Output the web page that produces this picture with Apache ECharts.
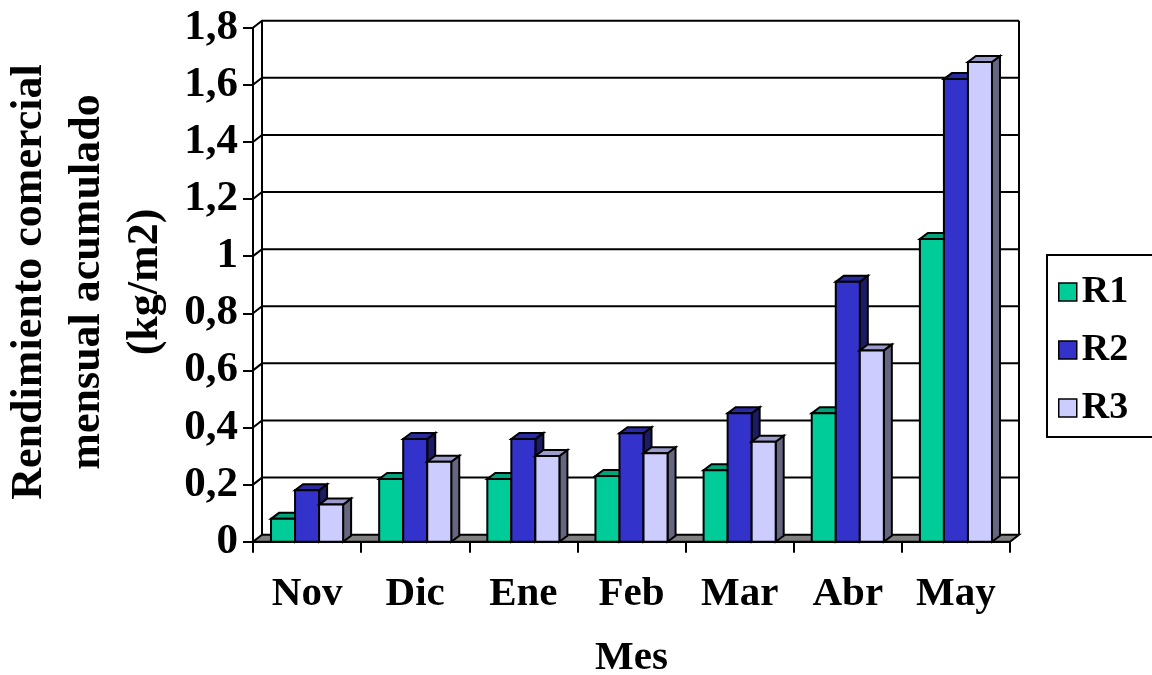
<!DOCTYPE html>
<html><head><meta charset="utf-8">
<script src="https://cdn.jsdelivr.net/npm/echarts@6/dist/echarts.min.js"></script>
<style>html,body{margin:0;padding:0;background:#fff}#c{width:1152px;height:675px}</style>
</head><body><div id="c"></div>
<script>
const categories = ['Nov', 'Dic', 'Ene', 'Feb', 'Mar', 'Abr', 'May'];
const r1 = [0.08, 0.22, 0.22, 0.23, 0.25, 0.45, 1.06];
const r2 = [0.18, 0.36, 0.36, 0.38, 0.45, 0.91, 1.62];
const r3 = [0.13, 0.28, 0.30, 0.31, 0.35, 0.67, 1.68];
const seriesNames = ['R1', 'R2', 'R3'];
const yTicks = [0, 0.2, 0.4, 0.6, 0.8, 1.0, 1.2, 1.4, 1.6, 1.8];
const yTitle = 'Rendimiento comercial\nmensual acumulado\n(kg/m2)';
const xTitle = 'Mes';

const FONT = '"Liberation Serif", "Times New Roman", serif';
const DX = 8, DY = -6;   // bar depth offset
const WX = 9, WY = -7;   // wall depth offset
const faces = [
  { front: '#00CC99', top: '#00A37A', side: '#007A5C' },
  { front: '#3333CC', top: '#2A2AA3', side: '#1C1C66' },
  { front: '#CCCCFF', top: '#9C9CCC', side: '#666680' }
];
const seriesData = [r1, r2, r3];

function makeBarRender(si) {
  return function (params, api) {
    const ci = api.value(0), v = api.value(1);
    const top = api.coord([ci, v]);
    const base = api.coord([ci, 0]);
    const bw = api.size([1, 0])[0];
    const w = bw * 0.2222;
    const x0 = top[0] - 1.5 * w + si * w;
    const x1 = x0 + w;
    const yT = top[1], yB = base[1];
    const c = faces[si];
    const st = { stroke: '#000', lineWidth: 2, lineJoin: 'miter' };
    return {
      type: 'group',
      children: [
        { type: 'polygon', shape: { points: [[x1, yB], [x1 + DX, yB + DY], [x1 + DX, yT + DY], [x1, yT]] }, style: Object.assign({ fill: c.side }, st) },
        { type: 'polygon', shape: { points: [[x0, yT], [x1, yT], [x1 + DX, yT + DY], [x0 + DX, yT + DY]] }, style: Object.assign({ fill: c.top }, st) },
        { type: 'rect', shape: { x: x0, y: yT, width: w, height: yB - yT }, style: Object.assign({ fill: c.front }, st) }
      ]
    };
  };
}

function renderWall(params, api) {
  const cs = params.coordSys;
  const v = api.value(0);
  const y = api.coord([0, v])[1];
  const xl = cs.x, xr = cs.x + cs.width;
  const yTop = cs.y, yBot = cs.y + cs.height;
  const ls = { stroke: '#000', lineWidth: 2, fill: null };
  const children = [];
  if (v > 0) {
    children.push({ type: 'polyline', shape: { points: [[xl, y], [xl + WX, y + WY], [xr + WX, y + WY]] }, style: ls });
  }
  if (params.dataIndex === 0) {
    children.push({ type: 'polygon', shape: { points: [[xl, yBot], [xr, yBot], [xr + WX, yBot + WY], [xl + WX, yBot + WY]] }, style: { fill: '#808080', stroke: '#000', lineWidth: 2 } });
    children.push({ type: 'line', shape: { x1: xl + WX, y1: yBot + WY, x2: xl + WX, y2: yTop + WY }, style: ls });
    children.push({ type: 'line', shape: { x1: xr + WX, y1: yBot + WY, x2: xr + WX, y2: yTop + WY }, style: ls });
  }
  return { type: 'group', children: children };
}

const chart = echarts.init(document.getElementById('c'));
const series = [{
  type: 'custom', name: '_wall', renderItem: renderWall,
  data: yTicks.map(v => [v]), encode: { y: 0 }, clip: false, silent: true, z: 1
}];
seriesNames.forEach((n, si) => {
  series.push({
    type: 'custom', name: n, renderItem: makeBarRender(si),
    data: seriesData[si].map((v, i) => [i, v]), encode: { x: 0, y: 1 },
    itemStyle: { color: faces[si].front }, clip: false, z: 2 + si
  });
});

chart.setOption({
  animation: false,
  backgroundColor: '#fff',
  grid: { left: 253, right: 142, top: 27.7, bottom: 133.3, containLabel: false, outerBoundsMode: 'none' },
  xAxis: {
    type: 'category', data: categories, boundaryGap: true,
    axisLine: { show: true, lineStyle: { color: '#000', width: 2 } },
    axisTick: { show: true, length: 11, lineStyle: { color: '#000', width: 2 } },
    axisLabel: { margin: 32, color: '#000', fontFamily: FONT, fontWeight: 'bold', fontSize: 41 },
    splitLine: { show: false },
    name: xTitle, nameLocation: 'middle', nameGap: 96,
    nameTextStyle: { color: '#000', fontFamily: FONT, fontWeight: 'bold', fontSize: 41 }
  },
  yAxis: {
    type: 'value', min: 0, max: 1.8, interval: 0.2,
    axisLine: { show: true, lineStyle: { color: '#000', width: 2 } },
    axisTick: { show: true, length: 10, lineStyle: { color: '#000', width: 2 } },
    axisLabel: {
      margin: 15, color: '#000', fontFamily: FONT, fontWeight: 'bold', fontSize: 43,
      formatter: v => String(Number(v.toFixed(1))).replace('.', ',')
    },
    splitLine: { show: false }
  },
  legend: {
    orient: 'vertical', left: 1047, top: 255,
    icon: 'rect', itemWidth: 18, itemHeight: 18, itemGap: 20,
    padding: [18, 40, 10, 11],
    borderColor: '#000', borderWidth: 2,
    textStyle: { color: '#000', fontFamily: FONT, fontWeight: 'bold', fontSize: 38 },
    data: seriesNames.map((n, i) => ({ name: n, itemStyle: { color: faces[i].front, borderColor: '#000', borderWidth: 1.5 } }))
  },
  graphic: [{
    type: 'text', x: 88, y: 282, rotation: Math.PI / 2,
    style: {
      text: yTitle, textAlign: 'center', textVerticalAlign: 'middle',
      fontFamily: FONT, fontWeight: 'bold', fontSize: 44, lineHeight: 58, fill: '#000'
    }
  }],
  series: series
});
</script>
</body></html>
